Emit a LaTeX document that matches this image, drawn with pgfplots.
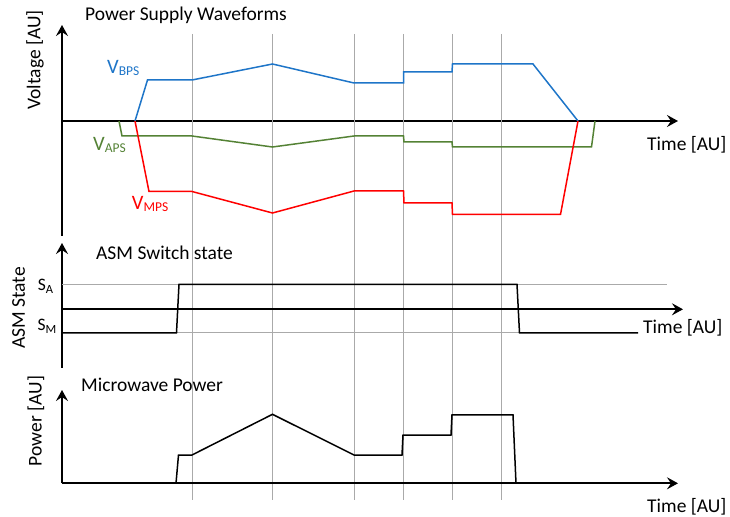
\documentclass[border=0pt]{standalone}
\usepackage{fontspec}
\setmainfont{Carlito}
\usepackage{pgfplots}
\pgfplotsset{compat=1.18}
\usetikzlibrary{arrows.meta}
\definecolor{cBPS}{RGB}{30,117,200}
\definecolor{cAPS}{RGB}{84,130,53}
\definecolor{cMPS}{RGB}{255,0,0}
\definecolor{cgrid}{RGB}{170,170,170}
\newcommand{\Vlab}[1]{{\fontsize{20.5bp}{20bp}\selectfont V}\raisebox{-1.5bp}{\fontsize{13.5bp}{13bp}\selectfont #1}}
\newcommand{\Slab}[1]{{\fontsize{17.5bp}{17bp}\selectfont S}\raisebox{-3bp}{\fontsize{12.5bp}{12bp}\selectfont #1}}
\pgfplotsset{
  panel/.style={
    axis lines=middle, x=1bp, y=1bp, scale only axis,
    xtick=\empty, ytick=\empty, clip=false,
    axis line style={line width=1.7bp, -{Stealth[length=11bp,width=12bp,inset=4bp]}},
    anchor=origin,
  },
  sig/.style={line width=1.5bp, mark=none},
}
\begin{document}
\begin{tikzpicture}
\useasboundingbox (0,0) rectangle (730bp,517bp);
% Panel 1: power supply waveforms
\begin{axis}[panel, at={(62bp,396bp)}, xmin=0, xmax=616, ymin=-115, ymax=96]
  \foreach \g in {130,210.5,292,341.5,390.3,439.7}{
    \edef\tmp{\noexpand\draw[cgrid, line width=0.9bp] (axis cs:\g,87) -- (axis cs:\g,-379);}\tmp
  }
  \addplot[sig, color=cBPS] coordinates {(73,0) (85.5,41) (130,41) (210.5,57) (292,38) (341.5,38) (341.5,49) (390,49) (390.5,57) (471,57) (516,0)};
  \addplot[sig, color=cAPS] coordinates {(57,0) (60,-15) (130,-15) (210.5,-26) (292,-15) (341.5,-15) (342,-21) (390,-21) (390.5,-26) (529.5,-26) (533,0)};
  \addplot[sig, color=cMPS] coordinates {(73,0) (87,-70.5) (130,-70.5) (210.5,-92) (292,-70) (341.5,-70) (342,-82) (390,-82) (390.5,-93.5) (498.5,-93.5) (516,0)};
\end{axis}
% Panel 2: ASM switch state
\begin{axis}[panel, at={(62bp,207.7bp)}, xmin=0, xmax=621, ymin=-58.7, ymax=66.3]
  \addplot[cgrid, line width=0.9bp, mark=none] coordinates {(0,25) (604.7,25)};
  \addplot[cgrid, line width=0.9bp, mark=none] coordinates {(0,-23.5) (576,-23.5)};
  \addplot[sig, color=black] coordinates {(0,-23.5) (114.5,-23.5) (117,25) (455,25) (457.5,-23.5) (576,-23.5)};
\end{axis}
% Panel 3: microwave power
\begin{axis}[panel, at={(62bp,33.7bp)}, xmin=0, xmax=616, ymin=0, ymax=93.3]
  \addplot[sig, color=black] coordinates {(114,0) (116.5,28.3) (130,28.3) (210.5,69) (292,28.3) (340,28.3) (341,48.3) (389,48.3) (390,68.5) (451,68.5) (454,0)};
\end{axis}
% Texts
\begin{scope}[every node/.style={inner sep=0pt, font=\fontsize{19.5bp}{22bp}\selectfont}]
  \node[anchor=base west] at (85bp,496bp) {Power Supply Waveforms};
  \node[anchor=base west] at (96bp,257bp) {ASM Switch state};
  \node[anchor=base west] at (81bp,125.3bp) {Microwave Power};
  \node[anchor=base west] at (647bp,366bp) {Time [AU]};
  \node[anchor=base west] at (643bp,183bp) {Time [AU]};
  \node[anchor=base west] at (647bp,4.5bp) {Time [AU]};
  \node[rotate=90] at (35bp,457bp) {Voltage [AU]};
  \node[rotate=90] at (18.5bp,209bp) {ASM State};
  \node[rotate=90] at (36bp,96bp) {Power [AU]};
  \node[anchor=base west, text=cBPS] at (107bp,443bp) {\Vlab{BPS}};
  \node[anchor=base west, text=cAPS] at (93bp,366.3bp) {\Vlab{APS}};
  \node[anchor=base west, text=cMPS] at (131.7bp,307bp) {\Vlab{MPS}};
  \node[anchor=base west] at (37.7bp,226bp) {\Slab{A}};
  \node[anchor=base west] at (37.3bp,186bp) {\Slab{M}};
\end{scope}
\end{tikzpicture}
\end{document}
